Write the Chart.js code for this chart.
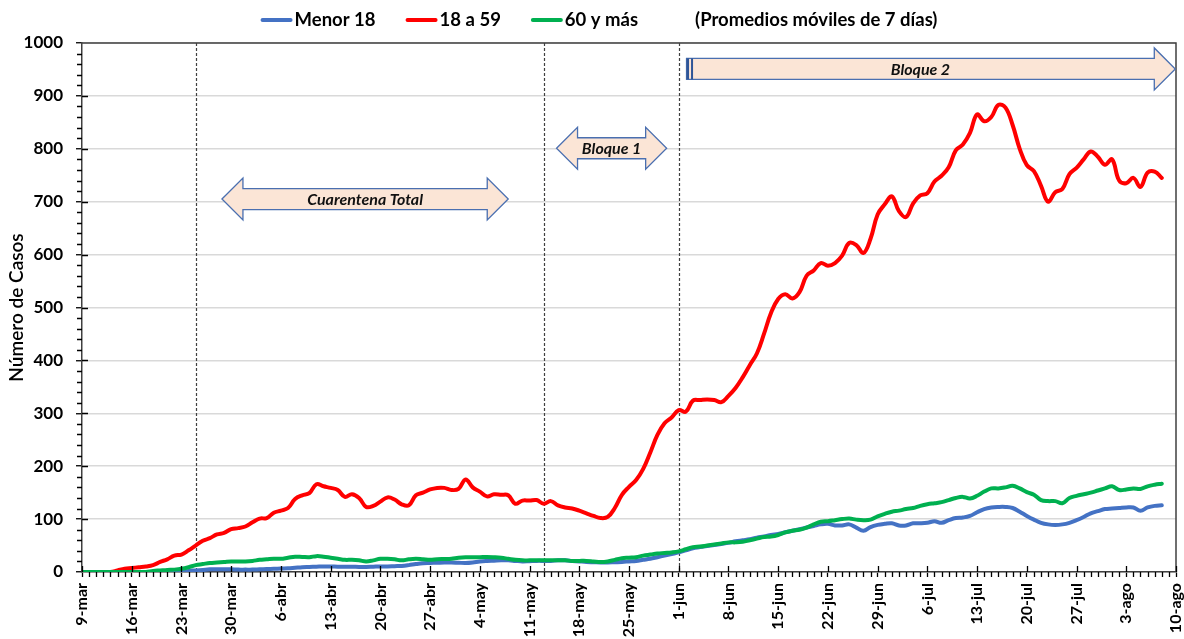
<!DOCTYPE html>
<html>
<head>
<meta charset="utf-8">
<script src="https://cdn.jsdelivr.net/npm/chart.js@4.4.1/dist/chart.umd.min.js"></script>
<style>
  html, body { margin: 0; padding: 0; background: #fff; }
  #wrap { width: 1184px; height: 639px; position: relative; }
</style>
</head>
<body>
<div id="wrap"><canvas id="c" width="1184" height="639"></canvas></div>
<script>
// ---- Data (daily 7-day moving averages, 9-mar = day 0) ----
const tickLabels = ['9-mar','16-mar','23-mar','30-mar','6-abr','13-abr','20-abr','27-abr','4-may','11-may','18-may','25-may',
  '1-jun','8-jun','15-jun','22-jun','29-jun','6-jul','13-jul','20-jul','27-jul','3-ago','10-ago'];
const seriesNames = ['Menor 18', '18 a 59', '60 y más'];
const noteText = '(Promedios móviles de 7 días)';

const menor18 = [
  0,0,0,0,0,0,0,0,0,0,
  0,0,0,0,0,2,3,4,5,5,
  5,5,4.5,4.5,4.5,5,5.5,6,6.5,7,
  8,9,9.5,10,10.5,10.5,10,10,10,9.5,
  9.5,10,10.5,10.5,11,11.5,13,15,16.5,17,
  17.5,18,18,17.5,17,18,20,21,21.5,22,
  22,21,20,20.5,21,21,21,22,22,21,
  20,19,18.5,18,18,18.5,19,20,21,23,
  25,28,31,34,37,41,45,47,49,51,
  53,55,58,60,62,65,67,70,72,75,
  78,81,84,87,90,91,88,88,90,84,
  78,85,89,91,92,88,88,92,92,93,
  96,93,98,102,103,106,113,119,122,123,
  123,121,114,106,99,93,90,89,90,93,
  98,104,111,115,119,120,121,122,122,116,
  122,125,126
];
const de18a59 = [
  0,0,0,0,0,3,6,7.5,9,10.5,
  13,19,24,31,33,41,50,59,64,71,
  74,81,83,86,94,101,102,112,116,121,
  138,145,149,166,162,159,155,142,147,140,
  123,125,133,141,137,128,126,145,150,156,
  159,159,155,157,175,160,152,143,147,146,
  145,129,135,135,136,129,134,126,122,120,
  116,111,106,102,104,121,146,161,174,195,
  226,259,281,292,306,303,324,325,326,325,
  321,333,348,368,391,413,450,490,516,525,
  517,529,560,570,584,579,584,598,622,618,
  603,630,676,695,710,682,671,697,712,716,
  738,749,765,797,808,830,865,852,860,883,
  878,845,800,769,758,730,700,718,724,752,
  764,780,795,785,770,780,740,735,745,728,
  755,757,745
];
const de60ymas = [
  0,0,0,0,0,0,0,0,0,0,
  2,3,4,4.5,6,9,13,15,17,18,
  19,20,20,20,21,23,24,25,25,27,
  29,28.5,28,30,29,27,25,23,23,22,
  20,22,25,25,24,22,24,25,24,23,
  24,24.5,25,27,28,28,28,28.5,28,27,
  25,23,22,22,22,22,22,22,22,21,
  21,21,20,19,20,23,26,27,28,31,
  33,35,36,37,39,43,47,48,50,52,
  54,56,56,57,60,63,66,67,70,75,
  78,80,84,90,95,96,98,100,101,99,
  98,99,105,110,114,116,119,121,125,128,
  130,132,136,140,142,139,144,152,158,158,
  160,163,158,151,146,136,134,134,130,140,
  144,147,150,154,158,162,155,156,158,157,
  162,165,167
];

// Annotation positions in data units (days from 9-mar, cases)
const phaseLineDays = [16, 65, 84];
const phaseArrows = [
  { from: 19.7, to: 60.0, y: 705, label: 'Cuarentena Total', heads: 'both' },
  { from: 66.8, to: 82.3, y: 801, label: 'Bloque 1', heads: 'both' },
  { from: 85.1, to: 153.9, y: 951, label: 'Bloque 2', heads: 'end' }
];

// ---- Styles ----
const COLORS = ['#4472C4', '#FF0000', '#00B050'];
const FONT = 'Lato, "Open Sans", "Liberation Sans", sans-serif';

function toPoints(arr) { return arr.map((v, i) => ({ x: i, y: v })); }

const framePlugin = {
  id: 'frame',
  beforeDatasetsDraw(chart) {
    const { ctx, chartArea: a, scales: { x } } = chart;
    ctx.save();
    ctx.strokeStyle = '#404040';
    ctx.lineWidth = 1.2;
    ctx.setLineDash([3, 2]);
    phaseLineDays.forEach(d => {
      const px = Math.round(x.getPixelForValue(d)) + 0.5;
      ctx.beginPath();
      ctx.moveTo(px, a.top);
      ctx.lineTo(px, a.bottom);
      ctx.stroke();
    });
    ctx.restore();
  },
  afterDraw(chart) {
    const { ctx, chartArea: a, scales: { x, y } } = chart;
    ctx.save();
    // top and right border
    ctx.strokeStyle = '#404040';
    ctx.lineWidth = 1.5;
    ctx.beginPath();
    ctx.moveTo(a.left, a.top);
    ctx.lineTo(a.right, a.top);
    ctx.lineTo(a.right, a.bottom);
    ctx.stroke();
    // tick marks
    ctx.strokeStyle = '#000';
    ctx.lineWidth = 1.3;
    ctx.beginPath();
    for (let v = 0; v <= 1000; v += 20) {
      const py = Math.round(y.getPixelForValue(v)) + 0.5;
      if (v % 100 === 0) {
        if (v > 0 && v < 1000) { ctx.moveTo(a.left, py); ctx.lineTo(a.left + 6, py); }
      } else {
        ctx.moveTo(a.left - 5, py); ctx.lineTo(a.left, py);
      }
    }
    for (let d = 0; d <= 154; d++) {
      const px = Math.round(x.getPixelForValue(d)) + 0.5;
      if (d % 7 === 0) {
        ctx.moveTo(px, a.bottom - 6); ctx.lineTo(px, a.bottom);
      } else {
        ctx.moveTo(px, a.bottom); ctx.lineTo(px, a.bottom + 5);
      }
    }
    ctx.stroke();

    // arrows
    phaseArrows.forEach(ar => {
      const x1 = x.getPixelForValue(ar.from);
      const x2 = x.getPixelForValue(ar.to);
      const cy = y.getPixelForValue(ar.y);
      const bh = 10.5, hh = 21, hl = 21;
      ctx.beginPath();
      if (ar.heads === 'both') {
        ctx.moveTo(x1, cy);
        ctx.lineTo(x1 + hl, cy - hh);
        ctx.lineTo(x1 + hl, cy - bh);
        ctx.lineTo(x2 - hl, cy - bh);
        ctx.lineTo(x2 - hl, cy - hh);
        ctx.lineTo(x2, cy);
        ctx.lineTo(x2 - hl, cy + hh);
        ctx.lineTo(x2 - hl, cy + bh);
        ctx.lineTo(x1 + hl, cy + bh);
        ctx.lineTo(x1 + hl, cy + hh);
        ctx.closePath();
      } else {
        ctx.moveTo(x1, cy - bh);
        ctx.lineTo(x2 - hl, cy - bh);
        ctx.lineTo(x2 - hl, cy - hh);
        ctx.lineTo(x2, cy);
        ctx.lineTo(x2 - hl, cy + hh);
        ctx.lineTo(x2 - hl, cy + bh);
        ctx.lineTo(x1, cy + bh);
        ctx.closePath();
      }
      ctx.fillStyle = '#FBE5D6';
      ctx.fill();
      ctx.strokeStyle = '#4A6FB0';
      ctx.lineWidth = 1.3;
      ctx.stroke();
      if (ar.heads !== 'both') {
        ctx.fillStyle = '#2F5597';
        ctx.fillRect(x1, cy - bh, 2.5, bh * 2);
        ctx.fillRect(x1 + 4.5, cy - bh, 2, bh * 2);
      }
      const bodyL = ar.heads === 'both' ? x1 + hl : x1;
      const bodyR = x2 - hl;
      ctx.fillStyle = '#111';
      ctx.font = 'italic bold 16px ' + FONT;
      ctx.textAlign = 'center';
      ctx.textBaseline = 'middle';
      ctx.fillText(ar.label, (bodyL + bodyR) / 2, cy + 1);
    });

    // legend
    ctx.font = 'bold 18.5px ' + FONT;
    ctx.textBaseline = 'middle';
    ctx.textAlign = 'left';
    const lineLen = 32, gapLT = 2, gapItem = 30, gapNote = 57;
    let total = 0;
    seriesNames.forEach(n => { total += lineLen + gapLT + ctx.measureText(n).width + gapItem; });
    total = total - gapItem + gapNote + ctx.measureText(noteText).width;
    let lx = chart.width / 2 + 7 - total / 2;
    const ly = 20;
    seriesNames.forEach((n, i) => {
      ctx.strokeStyle = COLORS[i];
      ctx.lineWidth = 4;
      ctx.lineCap = 'round';
      ctx.beginPath();
      ctx.moveTo(lx + 2, ly);
      ctx.lineTo(lx + lineLen - 2, ly);
      ctx.stroke();
      lx += lineLen + gapLT;
      ctx.fillStyle = '#000';
      ctx.fillText(n, lx, ly);
      lx += ctx.measureText(n).width + gapItem;
    });
    lx += gapNote - gapItem;
    ctx.fillText(noteText, lx, ly);
    ctx.restore();
  }
};

function build() {
  new Chart(document.getElementById('c'), {
    type: 'line',
    data: {
      datasets: [
        { label: seriesNames[0], data: toPoints(menor18), borderColor: COLORS[0], order: 3 },
        { label: seriesNames[1], data: toPoints(de18a59), borderColor: COLORS[1], order: 2 },
        { label: seriesNames[2], data: toPoints(de60ymas), borderColor: COLORS[2], order: 1 }
      ]
    },
    options: {
      responsive: false,
      animation: false,
      parsing: false,
      elements: {
        line: { borderWidth: 4, tension: 0.4, fill: false, borderCapStyle: 'round', borderJoinStyle: 'round' },
        point: { radius: 0, hoverRadius: 0 }
      },
      layout: { padding: { top: 43, right: 8, left: 0, bottom: 0 } },
      plugins: { legend: { display: false }, tooltip: { enabled: false } },
      scales: {
        x: {
          type: 'linear', min: 0, max: 154,
          afterFit(s) { s.height = 67; s.paddingLeft = 0; s.paddingRight = 0; },
          ticks: {
            stepSize: 7, autoSkip: false, minRotation: 90, maxRotation: 90, padding: 6,
            color: '#000', font: { family: FONT, size: 16, weight: 'bold' },
            callback: v => tickLabels[Math.round(v / 7)]
          },
          grid: { drawOnChartArea: false, drawTicks: true, tickLength: 5, tickColor: '#000', tickWidth: 1.3 },
          border: { display: true, color: '#404040', width: 1.5 }
        },
        y: {
          min: 0, max: 1000,
          afterFit(s) { s.width = 82; s.paddingTop = 0; s.paddingBottom = 0; },
          ticks: {
            stepSize: 100, padding: 13, color: '#000',
            font: { family: FONT, size: 17, weight: 'bold' },
            callback: v => String(v)
          },
          grid: { color: '#D9D9D9', lineWidth: 1.5, tickLength: 6, tickColor: '#000', tickWidth: 1.3 },
          border: { display: true, color: '#404040', width: 1.5 },
          title: {
            display: true, text: 'Número de Casos', color: '#000',
            font: { family: FONT, size: 19, weight: '600' }, padding: { top: 5, bottom: 0 }
          }
        }
      }
    },
    plugins: [framePlugin]
  });
}

const fontLoads = document.fonts ? Promise.all([
  document.fonts.load('bold 16px Lato'),
  document.fonts.load('italic bold 15px Lato'),
  document.fonts.load('600 17px Lato')
]) : Promise.resolve();
fontLoads.then(build, build);
</script>
</body>
</html>
